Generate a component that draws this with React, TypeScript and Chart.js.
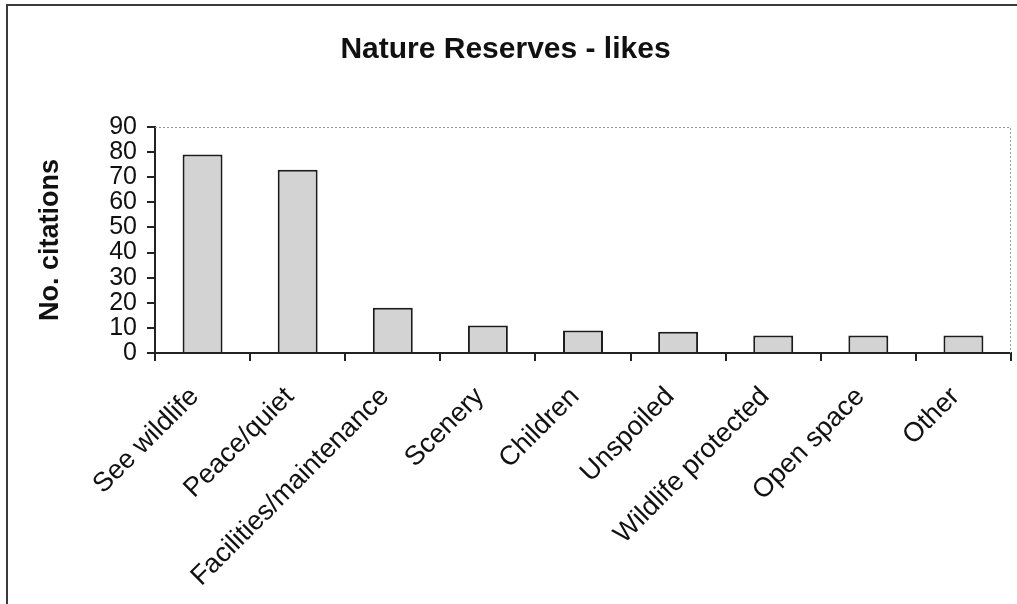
import React, { useEffect, useRef } from "react";
import { Chart, registerables } from "chart.js";

Chart.register(...registerables);

const categories = [
  "See wildlife",
  "Peace/quiet",
  "Facilities/maintenance",
  "Scenery",
  "Children",
  "Unspoiled",
  "Wildlife protected",
  "Open space",
  "Other",
];
const citations = [79, 73, 18, 11, 9, 8.5, 7, 7, 7];
const yTicks = [0, 10, 20, 30, 40, 50, 60, 70, 80, 90];
const chartTitle = "Nature Reserves - likes";
const yTitle = "No. citations";

const FONT = "'Liberation Sans', Arial, Helvetica, sans-serif";

const framePlugin = {
  id: "frameAndBorder",
  beforeDraw(chart: any) {
    const ctx = chart.ctx;
    ctx.save();
    ctx.fillStyle = "#ffffff";
    ctx.fillRect(0, 0, chart.width, chart.height);
    ctx.strokeStyle = "#3a3a3a";
    ctx.lineWidth = 2;
    ctx.beginPath();
    ctx.moveTo(7, chart.height + 2);
    ctx.lineTo(7, 5);
    ctx.lineTo(chart.width + 2, 5);
    ctx.stroke();
    ctx.restore();
  },
  afterDatasetsDraw(chart: any) {
    const { ctx, chartArea } = chart;
    ctx.save();
    ctx.strokeStyle = "#9a9a9a";
    ctx.lineWidth = 1;
    ctx.setLineDash([2, 2]);
    ctx.beginPath();
    ctx.moveTo(chartArea.left, chartArea.top + 0.5);
    ctx.lineTo(chartArea.right - 0.5, chartArea.top + 0.5);
    ctx.lineTo(chartArea.right - 0.5, chartArea.bottom);
    ctx.stroke();
    ctx.restore();
  },
};

export default function App() {
  const ref = useRef<HTMLCanvasElement>(null);
  useEffect(() => {
    if (!ref.current) return;
    const chart = new Chart(ref.current, {
      type: "bar",
      data: {
        labels: categories,
        datasets: [
          {
            data: citations,
            backgroundColor: "#d3d3d3",
            borderColor: "#1c1c1c",
            borderWidth: 2,
            borderSkipped: "bottom",
            barPercentage: 0.42,
            categoryPercentage: 1,
          },
        ],
      },
      options: {
        responsive: false,
        animation: false,
        layout: { padding: { left: 0, right: 6, top: 0, bottom: 0 } },
        plugins: {
          legend: { display: false },
          tooltip: { enabled: false },
          title: {
            display: true,
            text: chartTitle,
            color: "#111",
            font: { family: FONT, size: 30, weight: "bold", lineHeight: 1.2 },
            padding: { top: 32, bottom: 59 },
          },
        },
        scales: {
          x: {
            type: "category",
            offset: true,
            grid: {
              offset: true,
              drawOnChartArea: false,
              drawTicks: true,
              tickLength: 8,
              color: "#222",
              lineWidth: 2,
            },
            border: { display: true, color: "#222", width: 2 },
            ticks: {
              autoSkip: false,
              minRotation: 45,
              maxRotation: 45,
              color: "#111",
              padding: 20,
              labelOffset: -8,
              font: { family: FONT, size: 27 },
            },
            afterFit(scale: any) {
              scale.height = 604 - 353;
            },
          },
          y: {
            min: 0,
            max: 90,
            afterBuildTicks(scale: any) {
              scale.ticks = yTicks.map((v) => ({ value: v }));
            },
            grid: {
              drawOnChartArea: false,
              drawTicks: true,
              tickLength: 8,
              color: "#222",
              lineWidth: 2,
            },
            border: { display: true, color: "#222", width: 2 },
            ticks: {
              autoSkip: false,
              color: "#111",
              padding: 10,
              font: { family: FONT, size: 25, lineHeight: 1 },
            },
            title: {
              display: true,
              text: yTitle,
              color: "#111",
              font: { family: FONT, size: 27, weight: "bold", lineHeight: 1.2 },
              padding: { top: 34, bottom: 0 },
            },
            afterFit(scale: any) {
              scale.width = 155;
            },
          },
        },
      },
      plugins: [framePlugin],
    });
    return () => chart.destroy();
  }, []);
  return (
    <div style={{ position: "absolute", left: 0, top: 0, width: 1017, height: 604 }}>
      <canvas ref={ref} width={1017} height={604} style={{ display: "block" }} />
    </div>
  );
}
